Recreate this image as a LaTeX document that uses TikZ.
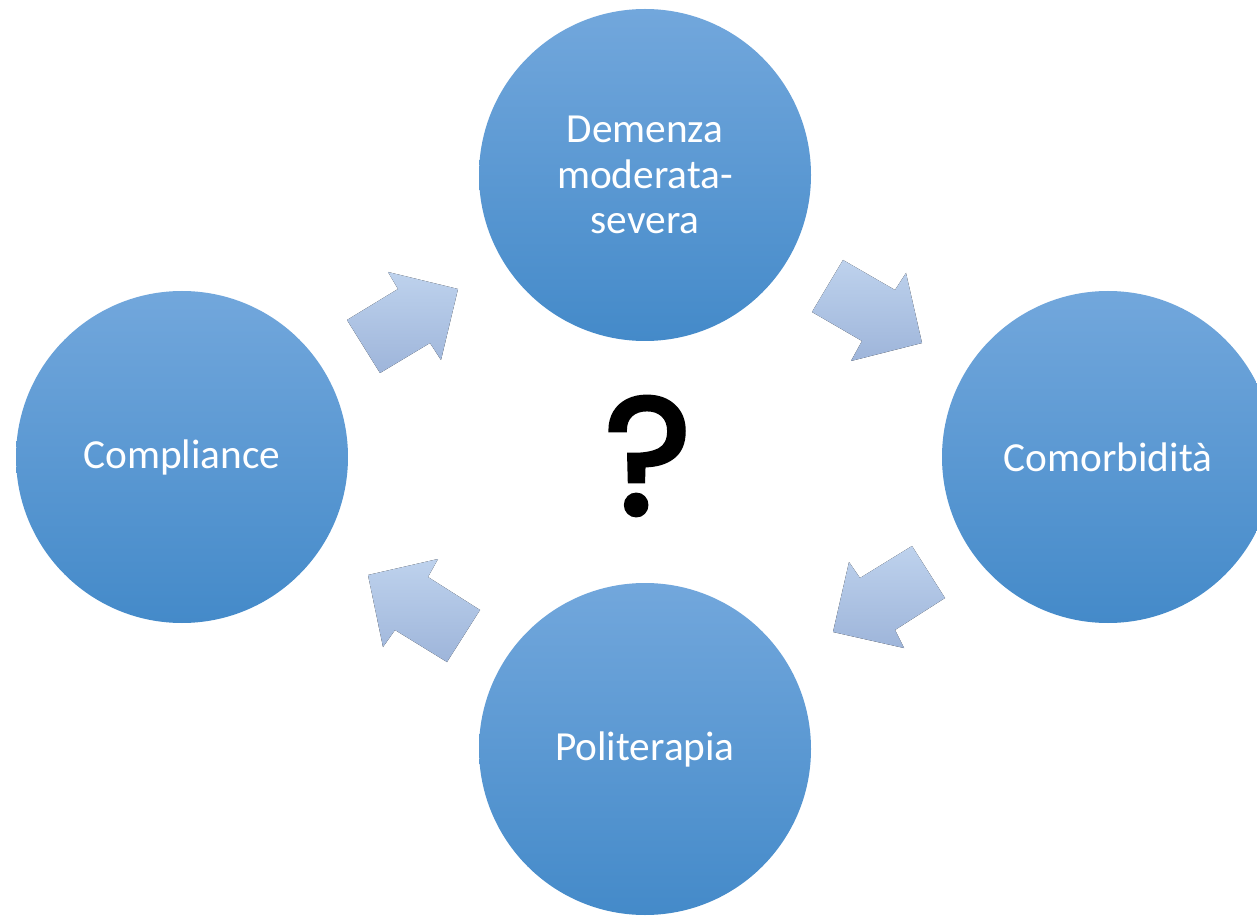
\documentclass[tikz,border=0pt]{standalone}
\usepackage{fontspec}
\setmainfont{Carlito}
\newfontfamily\qfont[FakeBold=2.5]{Poppins}
\definecolor{circtop}{RGB}{114,167,220}
\definecolor{circmid}{RGB}{84,153,219}
\definecolor{circbot}{RGB}{68,138,201}
\definecolor{arrtop}{RGB}{190,210,237}
\definecolor{arrbot}{RGB}{158,181,218}

\begin{document}
\begin{tikzpicture}[x=0.75pt, y=-0.75pt,
        topic/.style={circle, minimum size=249pt, inner sep=0pt, text=white, align=center,
            top color=circtop, middle color=circmid, bottom color=circbot,
            font=\fontsize{31}{34}\selectfont},
        blockarrow/.style={top color=arrtop, bottom color=arrbot, draw=none}]

    \clip (0,0) rectangle (1257,916);
    \fill[white] (0,0) rectangle (1257,916);

    % the four circles
    \node[topic] (demenza) at (645,175) {Demenza\\moderata-\\severa};
    \node[topic] (comorb) at (1108,457) {Comorbidità};
    \node[topic] (politer) at (645,749) {Politerapia};
    \node[topic] (compl) at (182,457) {Compliance};

    % block arrows between them
    \fill[blockarrow] (347,320) -- (398,289) -- (388,272) -- (458,289) -- (441,360) -- (430,343) -- (380,373) -- cycle;
    \fill[blockarrow] (843,260) -- (895,290) -- (906,273) -- (922,343) -- (851,361) -- (862,341) -- (812,312) -- cycle;
    \fill[blockarrow] (912,546) -- (945,598) -- (895,630) -- (904,648) -- (833,632) -- (849,562) -- (860,578) -- cycle;
    \fill[blockarrow] (480,610) -- (447,662) -- (395,630) -- (383,647) -- (368,575) -- (438,559) -- (428,577) -- cycle;

    \node[font=\qfont\fontsize{125}{125}\selectfont] (domanda) at (648,456) {?};
\end{tikzpicture}
\end{document}
